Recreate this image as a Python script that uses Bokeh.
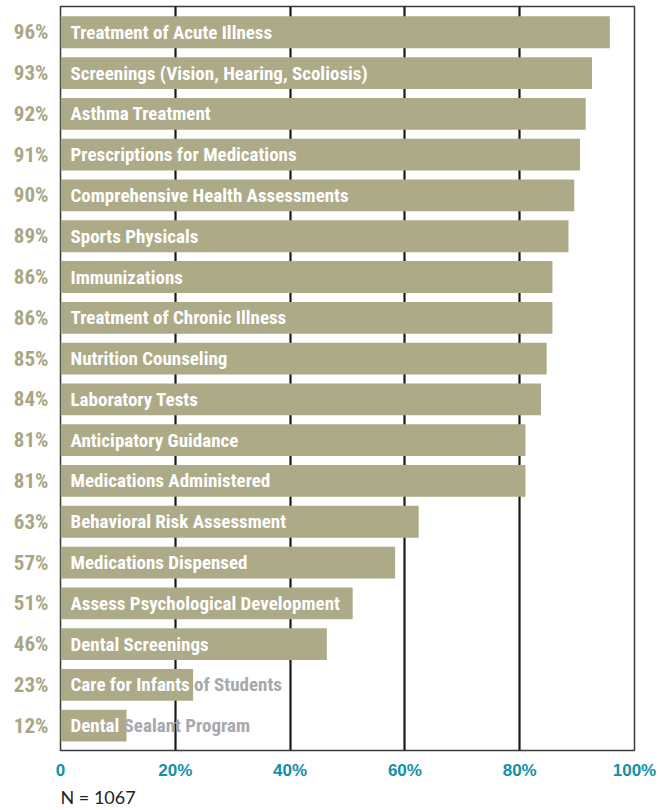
from bokeh.plotting import figure
from bokeh.models import Range1d, FixedTicker, Title, ColumnDataSource
from bokeh.core.properties import value
from bokeh.embed import file_html
from bokeh.resources import INLINE

services = [
    "Treatment of Acute Illness",
    "Screenings (Vision, Hearing, Scoliosis)",
    "Asthma Treatment",
    "Prescriptions for Medications",
    "Comprehensive Health Assessments",
    "Sports Physicals",
    "Immunizations",
    "Treatment of Chronic Illness",
    "Nutrition Counseling",
    "Laboratory Tests",
    "Anticipatory Guidance",
    "Medications Administered",
    "Behavioral Risk Assessment",
    "Medications Dispensed",
    "Assess Psychological Development",
    "Dental Screenings",
    "Care for Infants of Students",
    "Dental Sealant Program",
]
pct_labels = ["96%", "93%", "92%", "91%", "90%", "89%", "86%", "86%", "85%",
              "84%", "81%", "81%", "63%", "57%", "51%", "46%", "23%", "12%"]
bar_values = [95.7, 92.6, 91.5, 90.5, 89.5, 88.5, 85.7, 85.7, 84.7,
              83.7, 81.0, 81.0, 62.4, 58.3, 50.9, 46.4, 23.1, 11.5]
# portion of the label that sits on the bar (rest overflows in grey)
inside_text = list(services)
inside_text[16] = "Care for Infants"
inside_text[17] = "Dental"
x_ticks = [0, 20, 40, 60, 80, 100]
x_tick_labels = ["0", "20%", "40%", "60%", "80%", "100%"]
n_note = "N = 1067"

BAR = "#ADAA88"
TAN = "#A9A684"
TEAL = "#1190A8"
GREY = "#A7A9AC"
COND = "Roboto Condensed"

rows = list(range(len(services)))
n = len(services)

p = figure(width=670, height=808, output_backend="svg", toolbar_location=None,
           x_range=Range1d(0, 100), y_range=Range1d(n - 1 + 0.608, -0.632),
           min_border_left=60, min_border_right=36, min_border_top=6,
           min_border_bottom=52)
p.outline_line_color = "#3a3a3a"
p.outline_line_width = 1.5
p.background_fill_color = "white"
p.border_fill_color = "white"

p.xgrid.ticker = FixedTicker(ticks=[20, 40, 60, 80])
p.xgrid.grid_line_color = "#1a1a1a"
p.xgrid.grid_line_width = 2.2
p.ygrid.grid_line_color = None

src = ColumnDataSource(dict(y=rows, v=bar_values, full=services, inside=inside_text,
                            x0=[0] * n))
p.hbar(y="y", left=0, right="v", height=0.78, source=src,
       fill_color=BAR, line_color=None)

over_src = ColumnDataSource(dict(y=rows[16:], x0=[0, 0], full=services[16:]))
p.text(x="x0", y="y", text="full", source=over_src, x_offset=10,
       text_color=GREY, text_font=value(COND), text_font_style="bold",
       text_font_size="19px", text_baseline="middle", text_align="left")
p.text(x="x0", y="y", text="inside", source=src, x_offset=10,
       text_color="white", text_font=value(COND), text_font_style="bold",
       text_font_size="19px", text_baseline="middle", text_align="left")

# x axis
xa = p.xaxis[0]
xa.ticker = FixedTicker(ticks=x_ticks)
xa.major_label_overrides = {t: l for t, l in zip(x_ticks, x_tick_labels)}
xa.axis_line_color = None
xa.major_tick_line_color = None
xa.minor_tick_line_color = None
xa.major_tick_out = 0
xa.major_tick_in = 0
xa.major_label_standoff = 10
xa.major_label_text_color = TEAL
xa.major_label_text_font = "Liberation Sans"
xa.major_label_text_font_style = "bold"
xa.major_label_text_font_size = "17px"

# y axis
ya = p.yaxis[0]
ya.ticker = FixedTicker(ticks=rows)
ya.major_label_overrides = {r: l for r, l in zip(rows, pct_labels)}
ya.axis_line_color = None
ya.major_tick_line_color = None
ya.minor_tick_line_color = None
ya.major_tick_out = 0
ya.major_tick_in = 0
ya.major_label_standoff = 12
ya.major_label_text_color = TAN
ya.major_label_text_font = COND
ya.major_label_text_font_style = "bold"
ya.major_label_text_font_size = "21px"

p.add_layout(Title(text=n_note, align="left", text_color="#222222",
                   text_font="Lato", text_font_size="18px",
                   text_font_style="normal", standoff=2, offset=0), "below")

open("out.html", "w").write(file_html(p, INLINE))
